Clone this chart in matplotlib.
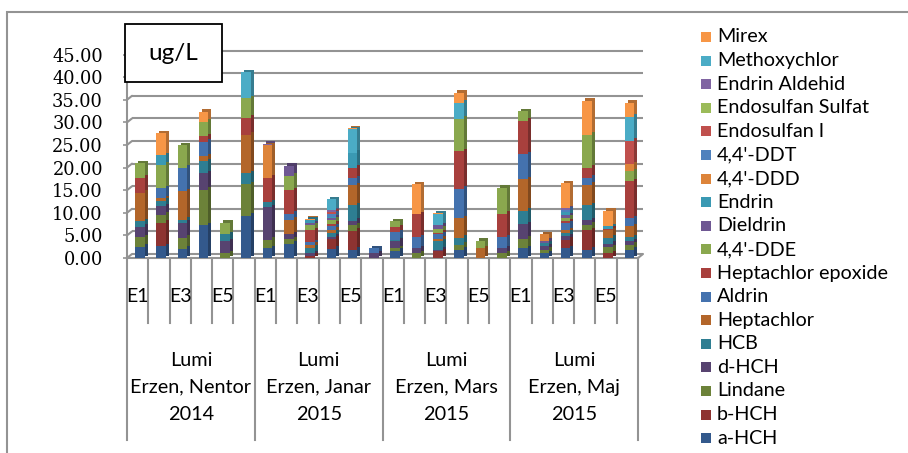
import numpy as np
import matplotlib.pyplot as plt
from matplotlib.patches import Rectangle, ConnectionPatch
from matplotlib.transforms import ScaledTranslation, blended_transform_factory
from matplotlib.colors import to_rgb

# sampling stations and campaigns
stations = ['E1', 'E2', 'E3', 'E4', 'E5', 'E6']
campaigns = [('Lumi', 'Erzen, Nentor', '2014'), ('Lumi', 'Erzen, Janar', '2015'),
             ('Lumi', 'Erzen, Mars', '2015'), ('Lumi', 'Erzen, Maj', '2015')]

compounds = ['a-HCH', 'b-HCH', 'Lindane', 'd-HCH', 'HCB', 'Heptachlor', 'Aldrin',
             'Heptachlor epoxide', "4,4'-DDE", 'Dieldrin', 'Endrin', "4,4'-DDD",
             "4,4'-DDT", 'Endosulfan I', 'Endosulfan Sulfat', 'Endrin Aldehid',
             'Methoxychlor', 'Mirex']

# concentrations in ug/L, 24 samples (4 campaigns x E1..E6)
a_hch = [2.5, 2.6, 2.1, 7.2, 0, 9.4, 2.2, 3.1, 0, 2.05, 1.85, 0,
         1.6, 0, 0, 1.85, 0, 0, 2.2, 1.1, 2.2, 1.85, 0, 1.85]
b_hch = [0, 5.2, 0, 0, 0, 0, 0, 0, 0.5, 2.2, 4.2, 0,
         0, 0, 1.5, 0, 0, 0, 0, 0, 1.85, 4.3, 1.1, 0]
lindane = [2.1, 1.8, 2.4, 7.9, 1.1, 6.9, 1.85, 1.0, 0, 0, 1.2, 0,
           0.6, 1.1, 0, 1.1, 0, 1.1, 2.05, 0.7, 0, 1.2, 1.25, 1.1]
d_hch = [2.3, 1.8, 3.3, 3.7, 2.6, 0, 7.2, 1.1, 0.5, 0.4, 1.0, 1.0,
         1.6, 1.1, 0.35, 0, 0, 1.1, 3.25, 0.75, 0.75, 1.0, 0.75, 0.75]
hcb = [1.2, 1.25, 0.7, 2.6, 1.5, 2.4, 1.1, 0, 1.3, 0.9, 3.4, 0,
       0.2, 0, 1.85, 1.5, 0, 0, 3.0, 0.75, 0.75, 3.35, 1.4, 0.9]
heptachlor = [6.3, 0.6, 6.3, 1.1, 0, 8.6, 0, 3.3, 0.6, 0.7, 4.4, 0,
              0, 0, 0.6, 4.3, 2.2, 0, 6.9, 0, 0.6, 4.5, 1.6, 2.45]
aldrin = [0, 2.2, 5.2, 3.2, 0, 0, 0, 1.25, 0.6, 0.8, 1.6, 1.2,
          1.7, 2.35, 0.9, 6.6, 0, 2.35, 5.5, 0, 1.5, 1.55, 0, 1.7]
hept_epoxide = [3.3, 0, 0, 1.25, 0, 3.7, 5.4, 5.2, 2.6, 0.5, 2.35, 0,
                1.1, 5.15, 0.35, 8.3, 0, 5.2, 7.5, 0, 0.5, 2.2, 0.4, 8.25]
dde = [3.3, 5.2, 5.0, 3.2, 2.6, 4.35, 0, 3.3, 1.1, 0.9, 0, 0,
       1.3, 0, 0.95, 7.2, 1.6, 5.75, 2.1, 0, 0.7, 7.3, 0, 2.2]
dieldrin = [0, 0, 0, 0, 0, 0, 0, 2.2, 0.5, 0.4, 0, 0,
            0, 0, 0.75, 0, 0, 0, 0, 0.5, 0.6, 0, 0, 0]
endrin = [0, 2.1, 0, 0, 0, 0, 0, 0, 0.8, 0.3, 3.3, 0,
          0, 0, 0, 0, 0, 0, 0, 0, 0.7, 0, 0.5, 0]
ddd = [0, 0, 0, 0, 0, 0, 7.2, 0, 0, 0, 0, 0,
       0, 0, 0, 0, 0, 0, 0, 1.4, 0, 0, 0, 1.5]
ddt = [0, 0, 0, 0, 0, 0, 0, 0, 0, 0.6, 0, 0,
       0, 0, 0, 0, 0, 0, 0, 0, 0.5, 0, 0, 0]
endosulfan_1 = [0, 0, 0, 0, 0, 0, 0, 0, 0, 0.5, 0, 0,
                0, 0, 0, 0, 0, 0, 0, 0, 0, 0, 0, 5.2]
endosulfan_sulfat = [0, 0, 0, 0, 0, 0, 0, 0, 0, 0, 0, 0,
                     0, 0, 0, 0, 0, 0, 0, 0, 0, 0, 0, 0]
endrin_aldehid = [0, 0, 0, 0, 0, 0, 0.3, 0, 0, 0.3, 0, 0,
                  0, 0, 0, 0, 0, 0, 0, 0, 0.4, 0, 0, 0]
methoxychlor = [0, 0, 0, 0, 0, 5.75, 0, 0, 0, 2.5, 5.2, 0,
                0, 0, 2.5, 3.5, 0, 0, 0, 0, 0, 0, 0, 5.3]
mirex = [0, 4.9, 0, 2.2, 0, 0, 0, 0, 0.2, 0, 0.2, 0,
         0, 6.6, 0.2, 2.2, 0, 0, 0, 0, 5.5, 7.5, 3.4, 3.2]

series = [a_hch, b_hch, lindane, d_hch, hcb, heptachlor, aldrin, hept_epoxide,
          dde, dieldrin, endrin, ddd, ddt, endosulfan_1, endosulfan_sulfat,
          endrin_aldehid, methoxychlor, mirex]

colors = ['#33598c', '#8e3331', '#6c8239', '#574370', '#2e7e92', '#b3662a',
          '#4472ae', '#a8403d', '#8aa84e', '#6f5893', '#3a99b3', '#dd843a',
          '#4f81bd', '#c0504d', '#9bbb59', '#8064a2', '#4bacc6', '#f79646']

yticks = np.arange(0, 50, 5)
grey = '#939393'
W, H = 908, 453


def shade(c, f=0.72):
    r, g, b = to_rgb(c)
    return (r * f, g * f, b * f)


fig = plt.figure(figsize=(W / 100, H / 100), dpi=100)
ax = fig.add_axes([127 / W, 1 - 258 / H, 511 / W, 203.4 / H])
px = fig.dpi_scale_trans

n = len(stations) * len(campaigns)
x = np.arange(n) + 0.1
bottom = np.zeros(n)
depth = ScaledTranslation(3 / 100, 2.5 / 100, px)
for vals, col in zip(series, colors):
    v = np.array(vals, dtype=float)
    # side/top of the column, then the front face
    ax.bar(x, v, 0.45, bottom=bottom, color=shade(col), linewidth=0,
           transform=ax.transData + depth, zorder=2)
    ax.bar(x, v, 0.45, bottom=bottom, color=col, linewidth=0, zorder=3)
    bottom += v

ax.set_xlim(-0.5, n - 0.5)
ax.set_ylim(0, 45)

# back-wall gridlines
back = ax.get_yaxis_transform() + ScaledTranslation(5 / 100, 4 / 100, px)
for v in yticks:
    ax.plot([0, 1], [v, v], transform=back, color=grey, lw=1.5, zorder=1,
            clip_on=False, solid_capstyle='butt')
    ax.add_artist(ConnectionPatch(xyA=(0, v), coordsA=ax.get_yaxis_transform(),
                                  xyB=(0, v), coordsB=back, color=grey, lw=1.5))
ax.add_artist(ConnectionPatch(xyA=(1, 0), coordsA=ax.transAxes,
                              xyB=(1, 0), coordsB=back, color=grey, lw=1.5))

for s in ['top', 'right']:
    ax.spines[s].set_visible(False)
for s in ['left', 'bottom']:
    ax.spines[s].set_color(grey)
    ax.spines[s].set_linewidth(1.5)

ax.set_yticks(yticks)
ax.set_yticklabels([f'{v:.2f}' for v in yticks], family='DejaVu Serif',
                   fontsize=12.8)
ax.tick_params(axis='y', length=3, width=1.2, color=grey, pad=14.4)
ax.set_xticks([])

# category boxes below the axis
xfig = blended_transform_factory(ax.transData, fig.transFigure)
for b in np.arange(n + 1) - 0.5:
    y_end = 1 - 440 / H if int(b + 0.5) % len(stations) == 0 else 1 - 323 / H
    ax.plot([b, b], [1 - 258 / H, y_end], transform=xfig, color=grey, lw=1.5,
            clip_on=False)
for i in range(n):
    if i % 2 == 0:
        ax.text(i, 1 - 297 / H, stations[i % len(stations)], transform=xfig,
                ha='center', va='center', family='Lato', fontsize=14)
for g, lines in enumerate(campaigns):
    xc = g * len(stations) + (len(stations) - 1) / 2
    for j, line in enumerate(lines):
        ax.text(xc, 1 - (360 + 27 * j) / H, line, transform=xfig,
                ha='center', va='center', family='Lato', fontsize=14.3)

# unit box
fig.add_artist(Rectangle((125 / W, 1 - 82 / H), 97 / W, 58 / H,
                         transform=fig.transFigure, facecolor='white',
                         edgecolor='black', lw=1.3))
fig.text(173.5 / W, 1 - 53 / H, 'ug/L', ha='center', va='center',
         family='Lato', fontsize=17.5)

# legend, top of the stack first
for k, (name, col) in enumerate(zip(compounds[::-1], colors[::-1])):
    yc = 37 + k * 23.6
    fig.add_artist(Rectangle((701 / W, 1 - (yc + 5) / H), 10 / W, 10 / H,
                             transform=fig.transFigure, facecolor=col,
                             edgecolor='none'))
    fig.text(717 / W, 1 - yc / H, name, ha='left', va='center',
             family='Lato', fontsize=14.25)

# chart area frame
fig.add_artist(Rectangle((7 / W, -0.1), 1.2, 1.1 - 12 / H,
                         transform=fig.transFigure, facecolor='none',
                         edgecolor=grey, lw=1.5))

fig.savefig('out.png', dpi=100)
